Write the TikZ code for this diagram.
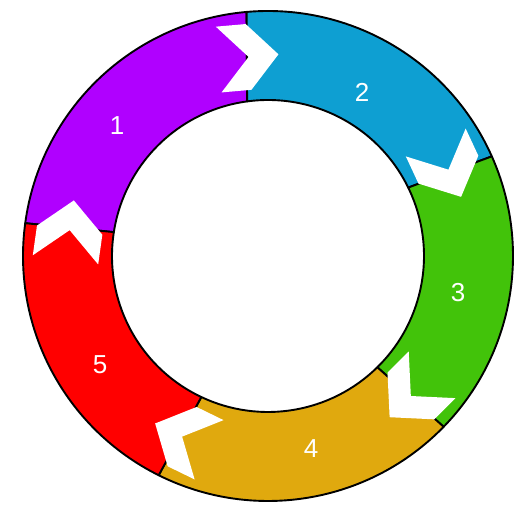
\documentclass[tikz,border=0pt]{standalone}
\usepackage{fontspec}
\setmainfont{Liberation Sans}
\usepackage{tikz}
\definecolor{segpurple}{HTML}{B000FF}
\definecolor{segblue}{HTML}{0E9FD2}
\definecolor{seggreen}{HTML}{42C30A}
\definecolor{seggold}{HTML}{E0A90E}
\definecolor{segred}{HTML}{FF0000}

\begin{document}
\begin{tikzpicture}[
  x=1pt,y=1pt,
  segment/.style={draw=black,line width=1.9pt,line join=round},
  chevron/.style={fill=white,draw=none},
  numlabel/.style={text=white,font=\fontsize{26}{26}\selectfont,inner sep=0pt}
]
\useasboundingbox (-268,-254) rectangle (262,256);
% ring segments: outer start/end, inner start/end, colour
\foreach \a/\b/\p/\q/\c in {95/172.3/97.7/171.2/segpurple,24/95/26/97.7/segblue,
    -44.2/24/-45.5/26/seggreen,-116.5/-44.2/-115.3/-45.5/seggold,172.3/243.5/171.2/244.7/segred}
  \draw[segment,fill=\c] (\a:245) arc[start angle=\a,end angle=\b,radius=245]
    -- (\q:156) arc[start angle=\q,end angle=\p,radius=156] -- cycle;
% white chevrons on the boundaries, pointing clockwise
\foreach \t in {95,25,-45,-116,172}{
  \fill[chevron,shift={(\t:200)},rotate=\t-90]
    (-32,33) -- (-2,33) -- (28,0) -- (-2,-33) -- (-32,-33) -- (-2,0) -- cycle;
}
\node[numlabel] (one)   at (-151,130) {1};
\node[numlabel] (two)   at (94,164)   {2};
\node[numlabel] (three) at (190,-37)  {3};
\node[numlabel] (four)  at (43,-193)  {4};
\node[numlabel] (five)  at (-168,-109) {5};
\end{tikzpicture}
\end{document}
